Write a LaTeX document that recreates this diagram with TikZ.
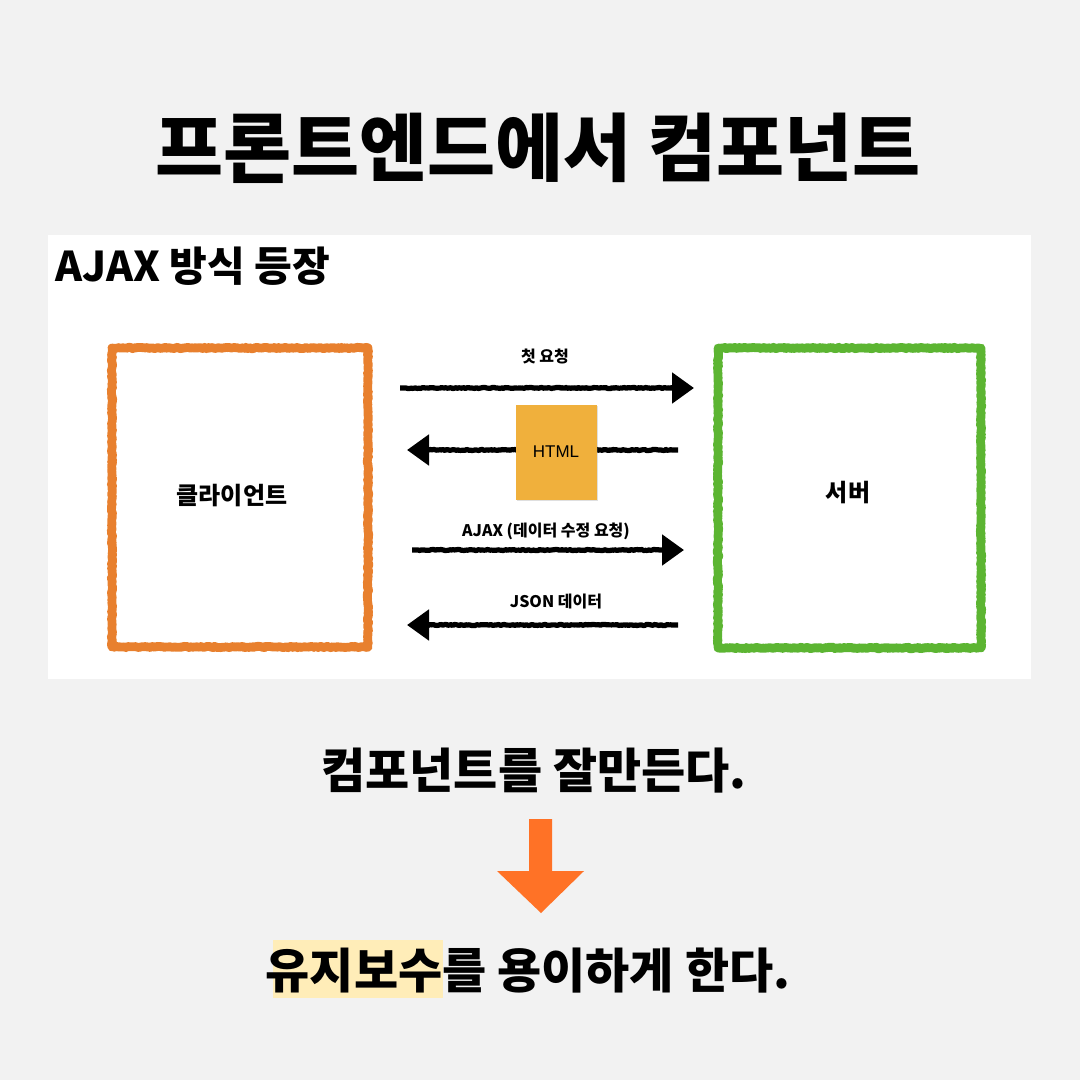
\documentclass[tikz,border=0pt]{standalone}
\usepackage{fontspec}
\newfontfamily\kr{Noto Sans CJK KR}
\newfontfamily\hel{Liberation Sans}
\usetikzlibrary{decorations.pathmorphing,arrows.meta,shadows}
\definecolor{bgcol}{HTML}{F2F2F2}
\definecolor{clientcol}{HTML}{E8802E}
\definecolor{servercol}{HTML}{5CB532}
\definecolor{htmlcol}{HTML}{F0B03C}
\definecolor{downcol}{HTML}{FF7226}
\definecolor{hilite}{HTML}{FFEDB8}
\tikzset{
  txt/.style={inner sep=0pt, anchor=base, text=black},
  crayon/.style={line width=4.4pt, line join=round, decorate,
     decoration={random steps, segment length=0.8pt, amplitude=0.35pt}},
  crayonb/.style={line width=1.4pt, line join=round, decorate,
     decoration={random steps, segment length=0.6pt, amplitude=0.7pt}},
  rough/.style={line width=2.6pt, line join=round, black, decorate,
     decoration={random steps, segment length=0.8pt, amplitude=0.3pt, pre length=3pt, post length=3pt},
     -{Triangle[length=11pt,width=15pt]}},
  htmlbox/.style={fill=htmlcol, minimum width=40.5pt, minimum height=47.5pt, inner sep=0pt,
     drop shadow={shadow xshift=0.6pt, shadow yshift=-0.8pt, opacity=0.25}, font=\hel\fontsize{8.5pt}{10pt}\selectfont},
}
\begin{document}
\begin{tikzpicture}[x=0.5pt,y=-0.5pt]
\useasboundingbox (0,0) rectangle (1080,1080);
\fill[bgcol] (0,0) rectangle (1080,1080);
% title
\node[txt, font=\kr\bfseries\fontsize{37pt}{40pt}\selectfont] (title) at (538,176) {프론트엔드에서 컴포넌트};
% panel
\fill[white] (48,235) rectangle (1031,679);
\node[txt, anchor=base west, font=\kr\bfseries\fontsize{20.5pt}{23pt}\selectfont] (panelt) at (55,282) {AJAX 방식 등장};
% boxes
\draw[crayon, clientcol] (112,348) rectangle (368,647);
\draw[crayonb, clientcol] (112,348) rectangle (368,647);
\draw[crayon, servercol] (718,348) rectangle (981,648);
\draw[crayonb, servercol] (718,348) rectangle (981,648);
\node[txt, font=\kr\bfseries\fontsize{12pt}{14pt}\selectfont] (client) at (232,504) {클라이언트};
\node[txt, font=\kr\bfseries\fontsize{12pt}{14pt}\selectfont] (server) at (848,501) {서버};
% arrow end coordinates
\coordinate (r1s) at (400,388); \coordinate (r1e) at (694,388);
\coordinate (l1s) at (678,450); \coordinate (l1e) at (407,450);
\coordinate (r2s) at (412,550); \coordinate (r2e) at (684,550);
\coordinate (l2s) at (678,625); \coordinate (l2e) at (407,625);
\draw[rough] (r1s) -- (r1e);
\draw[rough] (l1s) -- (l1e);
\draw[rough] (r2s) -- (r2e);
\draw[rough] (l2s) -- (l2e);
\node[htmlbox] (html) at (556,452) {HTML};
\node[txt, font=\kr\bfseries\fontsize{8pt}{10pt}\selectfont] (lab1) at (545,362) {첫 요청};
\node[txt, font=\kr\bfseries\fontsize{8pt}{10pt}\selectfont] (lab2) at (546,536) {AJAX (데이터 수정 요청)};
\node[txt, font=\kr\bfseries\fontsize{8pt}{10pt}\selectfont] (lab3) at (556,607) {JSON 데이터};
% bottom
\node[txt, font=\kr\bfseries\fontsize{24pt}{27pt}\selectfont] (line1) at (534,788) {컴포넌트를 잘만든다.};
\fill[downcol] (529,819) -- (552,819) -- (552,871) -- (584,871) -- (541,913) -- (497,871) -- (529,871) -- cycle;
\fill[hilite] (273,940) rectangle (443,998);
\node[txt, font=\kr\bfseries\fontsize{24pt}{27pt}\selectfont] (line2) at (528,988) {유지보수를 용이하게 한다.};
\end{tikzpicture}
\end{document}
